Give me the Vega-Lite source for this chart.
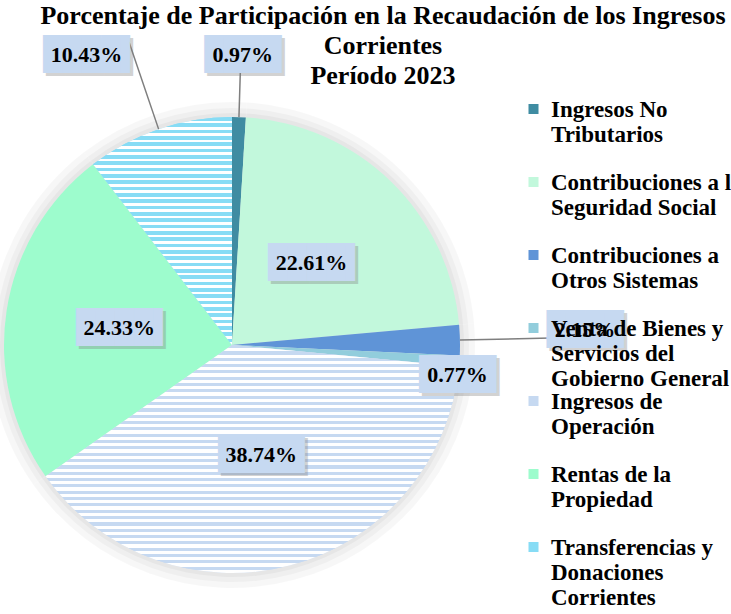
{
  "$schema": "https://vega.github.io/schema/vega-lite/v6.json",
  "width": 456,
  "height": 456,
  "autosize": {"type": "none"},
  "padding": {"left": 4, "top": 117, "right": 271, "bottom": 41},
  "background": "#ffffff",
  "config": {"view": {"stroke": null}},
  "title": {
    "text": ["Porcentaje de Participación en la Recaudación de los Ingresos", "Corrientes", "Período 2023"],
    "font": "Liberation Serif",
    "fontSize": 26,
    "fontWeight": "bold",
    "color": "#000000",
    "anchor": "middle",
    "frame": "group",
    "dx": 151,
    "offset": -120,
    "lineHeight": 30
  },
  "data": {
    "values": [
      {"categoria": "Ingresos No Tributarios", "orden": 1, "valor": 0.0097},
      {"categoria": "Contribuciones a la Seguridad Social", "orden": 2, "valor": 0.2261},
      {"categoria": "Contribuciones a Otros Sistemas", "orden": 3, "valor": 0.0215},
      {"categoria": "Venta de Bienes y Servicios del Gobierno General", "orden": 4, "valor": 0.0077},
      {"categoria": "Ingresos de Operación", "orden": 5, "valor": 0.3874},
      {"categoria": "Rentas de la Propiedad", "orden": 6, "valor": 0.2433},
      {"categoria": "Transferencias y Donaciones Corrientes", "orden": 7, "valor": 0.1043}
    ]
  },
  "layer": [
    {
      "mark": {"type": "arc", "radius": 243, "color": "#000000", "opacity": 0.03},
      "encoding": {"theta": {"field": "valor", "type": "quantitative", "stack": true}, "order": {"field": "orden", "type": "quantitative"}}
    },
    {
      "mark": {"type": "arc", "radius": 237, "color": "#000000", "opacity": 0.03},
      "encoding": {"theta": {"field": "valor", "type": "quantitative", "stack": true}, "order": {"field": "orden", "type": "quantitative"}}
    },
    {
      "mark": {"type": "arc", "radius": 232, "color": "#000000", "opacity": 0.035},
      "encoding": {"theta": {"field": "valor", "type": "quantitative", "stack": true}, "order": {"field": "orden", "type": "quantitative"}}
    },
    {
      "mark": {"type": "arc", "radius": 228},
      "encoding": {
        "theta": {"field": "valor", "type": "quantitative", "stack": true},
        "order": {"field": "orden", "type": "quantitative"},
        "color": {
          "field": "categoria",
          "type": "nominal",
          "scale": {
            "domain": ["Ingresos No Tributarios", "Contribuciones a la Seguridad Social", "Contribuciones a Otros Sistemas", "Venta de Bienes y Servicios del Gobierno General", "Ingresos de Operación", "Rentas de la Propiedad", "Transferencias y Donaciones Corrientes"],
            "range": ["#3f8ca2", "#c2f8dc", "#5f94d7", "#92cddc", "#c6d9f1", "#9dfccd", "#87dcf5"]
          },
          "legend": {
            "orient": "none",
            "legendX": 518,
            "legendY": -18,
            "title": null,
            "symbolType": "square",
            "symbolSize": 100,
            "symbolStrokeWidth": 0,
            "labelFont": "Liberation Serif",
            "labelFontSize": 23,
            "labelFontWeight": "bold",
            "labelColor": "#000000",
            "labelLimit": 400,
            "labelOffset": 6,
            "clipHeight": 73,
            "rowPadding": 0,
            "labelExpr": "datum.label == 'Ingresos No Tributarios' ? ['Ingresos No', 'Tributarios'] : datum.label == 'Contribuciones a la Seguridad Social' ? ['Contribuciones a la', 'Seguridad Social'] : datum.label == 'Contribuciones a Otros Sistemas' ? ['Contribuciones a', 'Otros Sistemas'] : datum.label == 'Venta de Bienes y Servicios del Gobierno General' ? ['Venta de Bienes y', 'Servicios del', 'Gobierno General'] : datum.label == 'Ingresos de Operación' ? ['Ingresos de', 'Operación'] : datum.label == 'Rentas de la Propiedad' ? ['Rentas de la', 'Propiedad'] : ['Transferencias y', 'Donaciones', 'Corrientes']",
            "encode": {
              "labels": {"update": {"y": {"value": 0}, "baseline": {"value": "top"}, "lineHeight": {"value": 25}}},
              "symbols": {"update": {"y": {"value": 10}}}
            }
          }
        }
      }
    },
    {
      "mark": {"type": "arc", "radius": 228, "color": {"gradient": "linear", "x1": 0, "y1": 0, "x2": 0, "y2": 1, "stops": [
        {"offset": 0, "color": "#c6d9f1"}, {"offset": 0.01389, "color": "#c6d9f1"}, {"offset": 0.01389, "color": "#ffffff"}, {"offset": 0.02778, "color": "#ffffff"},
        {"offset": 0.02778, "color": "#c6d9f1"}, {"offset": 0.04167, "color": "#c6d9f1"}, {"offset": 0.04167, "color": "#ffffff"}, {"offset": 0.05556, "color": "#ffffff"},
        {"offset": 0.05556, "color": "#c6d9f1"}, {"offset": 0.06944, "color": "#c6d9f1"}, {"offset": 0.06944, "color": "#ffffff"}, {"offset": 0.08333, "color": "#ffffff"},
        {"offset": 0.08333, "color": "#c6d9f1"}, {"offset": 0.09722, "color": "#c6d9f1"}, {"offset": 0.09722, "color": "#ffffff"}, {"offset": 0.11111, "color": "#ffffff"},
        {"offset": 0.11111, "color": "#c6d9f1"}, {"offset": 0.125, "color": "#c6d9f1"}, {"offset": 0.125, "color": "#ffffff"}, {"offset": 0.13889, "color": "#ffffff"},
        {"offset": 0.13889, "color": "#c6d9f1"}, {"offset": 0.15278, "color": "#c6d9f1"}, {"offset": 0.15278, "color": "#ffffff"}, {"offset": 0.16667, "color": "#ffffff"},
        {"offset": 0.16667, "color": "#c6d9f1"}, {"offset": 0.18056, "color": "#c6d9f1"}, {"offset": 0.18056, "color": "#ffffff"}, {"offset": 0.19444, "color": "#ffffff"},
        {"offset": 0.19444, "color": "#c6d9f1"}, {"offset": 0.20833, "color": "#c6d9f1"}, {"offset": 0.20833, "color": "#ffffff"}, {"offset": 0.22222, "color": "#ffffff"},
        {"offset": 0.22222, "color": "#c6d9f1"}, {"offset": 0.23611, "color": "#c6d9f1"}, {"offset": 0.23611, "color": "#ffffff"}, {"offset": 0.25, "color": "#ffffff"},
        {"offset": 0.25, "color": "#c6d9f1"}, {"offset": 0.26389, "color": "#c6d9f1"}, {"offset": 0.26389, "color": "#ffffff"}, {"offset": 0.27778, "color": "#ffffff"},
        {"offset": 0.27778, "color": "#c6d9f1"}, {"offset": 0.29167, "color": "#c6d9f1"}, {"offset": 0.29167, "color": "#ffffff"}, {"offset": 0.30556, "color": "#ffffff"},
        {"offset": 0.30556, "color": "#c6d9f1"}, {"offset": 0.31944, "color": "#c6d9f1"}, {"offset": 0.31944, "color": "#ffffff"}, {"offset": 0.33333, "color": "#ffffff"},
        {"offset": 0.33333, "color": "#c6d9f1"}, {"offset": 0.34722, "color": "#c6d9f1"}, {"offset": 0.34722, "color": "#ffffff"}, {"offset": 0.36111, "color": "#ffffff"},
        {"offset": 0.36111, "color": "#c6d9f1"}, {"offset": 0.375, "color": "#c6d9f1"}, {"offset": 0.375, "color": "#ffffff"}, {"offset": 0.38889, "color": "#ffffff"},
        {"offset": 0.38889, "color": "#c6d9f1"}, {"offset": 0.40278, "color": "#c6d9f1"}, {"offset": 0.40278, "color": "#ffffff"}, {"offset": 0.41667, "color": "#ffffff"},
        {"offset": 0.41667, "color": "#c6d9f1"}, {"offset": 0.43056, "color": "#c6d9f1"}, {"offset": 0.43056, "color": "#ffffff"}, {"offset": 0.44444, "color": "#ffffff"},
        {"offset": 0.44444, "color": "#c6d9f1"}, {"offset": 0.45833, "color": "#c6d9f1"}, {"offset": 0.45833, "color": "#ffffff"}, {"offset": 0.47222, "color": "#ffffff"},
        {"offset": 0.47222, "color": "#c6d9f1"}, {"offset": 0.48611, "color": "#c6d9f1"}, {"offset": 0.48611, "color": "#ffffff"}, {"offset": 0.5, "color": "#ffffff"},
        {"offset": 0.5, "color": "#c6d9f1"}, {"offset": 0.51389, "color": "#c6d9f1"}, {"offset": 0.51389, "color": "#ffffff"}, {"offset": 0.52778, "color": "#ffffff"},
        {"offset": 0.52778, "color": "#c6d9f1"}, {"offset": 0.54167, "color": "#c6d9f1"}, {"offset": 0.54167, "color": "#ffffff"}, {"offset": 0.55556, "color": "#ffffff"},
        {"offset": 0.55556, "color": "#c6d9f1"}, {"offset": 0.56944, "color": "#c6d9f1"}, {"offset": 0.56944, "color": "#ffffff"}, {"offset": 0.58333, "color": "#ffffff"},
        {"offset": 0.58333, "color": "#c6d9f1"}, {"offset": 0.59722, "color": "#c6d9f1"}, {"offset": 0.59722, "color": "#ffffff"}, {"offset": 0.61111, "color": "#ffffff"},
        {"offset": 0.61111, "color": "#c6d9f1"}, {"offset": 0.625, "color": "#c6d9f1"}, {"offset": 0.625, "color": "#ffffff"}, {"offset": 0.63889, "color": "#ffffff"},
        {"offset": 0.63889, "color": "#c6d9f1"}, {"offset": 0.65278, "color": "#c6d9f1"}, {"offset": 0.65278, "color": "#ffffff"}, {"offset": 0.66667, "color": "#ffffff"},
        {"offset": 0.66667, "color": "#c6d9f1"}, {"offset": 0.68056, "color": "#c6d9f1"}, {"offset": 0.68056, "color": "#ffffff"}, {"offset": 0.69444, "color": "#ffffff"},
        {"offset": 0.69444, "color": "#c6d9f1"}, {"offset": 0.70833, "color": "#c6d9f1"}, {"offset": 0.70833, "color": "#ffffff"}, {"offset": 0.72222, "color": "#ffffff"},
        {"offset": 0.72222, "color": "#c6d9f1"}, {"offset": 0.73611, "color": "#c6d9f1"}, {"offset": 0.73611, "color": "#ffffff"}, {"offset": 0.75, "color": "#ffffff"},
        {"offset": 0.75, "color": "#c6d9f1"}, {"offset": 0.76389, "color": "#c6d9f1"}, {"offset": 0.76389, "color": "#ffffff"}, {"offset": 0.77778, "color": "#ffffff"},
        {"offset": 0.77778, "color": "#c6d9f1"}, {"offset": 0.79167, "color": "#c6d9f1"}, {"offset": 0.79167, "color": "#ffffff"}, {"offset": 0.80556, "color": "#ffffff"},
        {"offset": 0.80556, "color": "#c6d9f1"}, {"offset": 0.81944, "color": "#c6d9f1"}, {"offset": 0.81944, "color": "#ffffff"}, {"offset": 0.83333, "color": "#ffffff"},
        {"offset": 0.83333, "color": "#c6d9f1"}, {"offset": 0.84722, "color": "#c6d9f1"}, {"offset": 0.84722, "color": "#ffffff"}, {"offset": 0.86111, "color": "#ffffff"},
        {"offset": 0.86111, "color": "#c6d9f1"}, {"offset": 0.875, "color": "#c6d9f1"}, {"offset": 0.875, "color": "#ffffff"}, {"offset": 0.88889, "color": "#ffffff"},
        {"offset": 0.88889, "color": "#c6d9f1"}, {"offset": 0.90278, "color": "#c6d9f1"}, {"offset": 0.90278, "color": "#ffffff"}, {"offset": 0.91667, "color": "#ffffff"},
        {"offset": 0.91667, "color": "#c6d9f1"}, {"offset": 0.93056, "color": "#c6d9f1"}, {"offset": 0.93056, "color": "#ffffff"}, {"offset": 0.94444, "color": "#ffffff"},
        {"offset": 0.94444, "color": "#c6d9f1"}, {"offset": 0.95833, "color": "#c6d9f1"}, {"offset": 0.95833, "color": "#ffffff"}, {"offset": 0.97222, "color": "#ffffff"},
        {"offset": 0.97222, "color": "#c6d9f1"}, {"offset": 0.98611, "color": "#c6d9f1"}, {"offset": 0.98611, "color": "#ffffff"}, {"offset": 1, "color": "#ffffff"}
      ]}},
      "encoding": {"theta": {"field": "valor", "type": "quantitative", "stack": true}, "order": {"field": "orden", "type": "quantitative"}, "opacity": {"condition": {"test": "datum.orden == 5", "value": 1}, "value": 0}}
    },
    {
      "mark": {"type": "arc", "radius": 228, "color": {"gradient": "linear", "x1": 0, "y1": 0, "x2": 0, "y2": 1, "stops": [
        {"offset": 0, "color": "#87dcf5"}, {"offset": 0.01667, "color": "#87dcf5"}, {"offset": 0.01667, "color": "#ffffff"}, {"offset": 0.02778, "color": "#ffffff"},
        {"offset": 0.02778, "color": "#87dcf5"}, {"offset": 0.04444, "color": "#87dcf5"}, {"offset": 0.04444, "color": "#ffffff"}, {"offset": 0.05556, "color": "#ffffff"},
        {"offset": 0.05556, "color": "#87dcf5"}, {"offset": 0.07222, "color": "#87dcf5"}, {"offset": 0.07222, "color": "#ffffff"}, {"offset": 0.08333, "color": "#ffffff"},
        {"offset": 0.08333, "color": "#87dcf5"}, {"offset": 0.1, "color": "#87dcf5"}, {"offset": 0.1, "color": "#ffffff"}, {"offset": 0.11111, "color": "#ffffff"},
        {"offset": 0.11111, "color": "#87dcf5"}, {"offset": 0.12778, "color": "#87dcf5"}, {"offset": 0.12778, "color": "#ffffff"}, {"offset": 0.13889, "color": "#ffffff"},
        {"offset": 0.13889, "color": "#87dcf5"}, {"offset": 0.15556, "color": "#87dcf5"}, {"offset": 0.15556, "color": "#ffffff"}, {"offset": 0.16667, "color": "#ffffff"},
        {"offset": 0.16667, "color": "#87dcf5"}, {"offset": 0.18333, "color": "#87dcf5"}, {"offset": 0.18333, "color": "#ffffff"}, {"offset": 0.19444, "color": "#ffffff"},
        {"offset": 0.19444, "color": "#87dcf5"}, {"offset": 0.21111, "color": "#87dcf5"}, {"offset": 0.21111, "color": "#ffffff"}, {"offset": 0.22222, "color": "#ffffff"},
        {"offset": 0.22222, "color": "#87dcf5"}, {"offset": 0.23889, "color": "#87dcf5"}, {"offset": 0.23889, "color": "#ffffff"}, {"offset": 0.25, "color": "#ffffff"},
        {"offset": 0.25, "color": "#87dcf5"}, {"offset": 0.26667, "color": "#87dcf5"}, {"offset": 0.26667, "color": "#ffffff"}, {"offset": 0.27778, "color": "#ffffff"},
        {"offset": 0.27778, "color": "#87dcf5"}, {"offset": 0.29444, "color": "#87dcf5"}, {"offset": 0.29444, "color": "#ffffff"}, {"offset": 0.30556, "color": "#ffffff"},
        {"offset": 0.30556, "color": "#87dcf5"}, {"offset": 0.32222, "color": "#87dcf5"}, {"offset": 0.32222, "color": "#ffffff"}, {"offset": 0.33333, "color": "#ffffff"},
        {"offset": 0.33333, "color": "#87dcf5"}, {"offset": 0.35, "color": "#87dcf5"}, {"offset": 0.35, "color": "#ffffff"}, {"offset": 0.36111, "color": "#ffffff"},
        {"offset": 0.36111, "color": "#87dcf5"}, {"offset": 0.37778, "color": "#87dcf5"}, {"offset": 0.37778, "color": "#ffffff"}, {"offset": 0.38889, "color": "#ffffff"},
        {"offset": 0.38889, "color": "#87dcf5"}, {"offset": 0.40556, "color": "#87dcf5"}, {"offset": 0.40556, "color": "#ffffff"}, {"offset": 0.41667, "color": "#ffffff"},
        {"offset": 0.41667, "color": "#87dcf5"}, {"offset": 0.43333, "color": "#87dcf5"}, {"offset": 0.43333, "color": "#ffffff"}, {"offset": 0.44444, "color": "#ffffff"},
        {"offset": 0.44444, "color": "#87dcf5"}, {"offset": 0.46111, "color": "#87dcf5"}, {"offset": 0.46111, "color": "#ffffff"}, {"offset": 0.47222, "color": "#ffffff"},
        {"offset": 0.47222, "color": "#87dcf5"}, {"offset": 0.48889, "color": "#87dcf5"}, {"offset": 0.48889, "color": "#ffffff"}, {"offset": 0.5, "color": "#ffffff"},
        {"offset": 0.5, "color": "#87dcf5"}, {"offset": 0.51667, "color": "#87dcf5"}, {"offset": 0.51667, "color": "#ffffff"}, {"offset": 0.52778, "color": "#ffffff"},
        {"offset": 0.52778, "color": "#87dcf5"}, {"offset": 0.54444, "color": "#87dcf5"}, {"offset": 0.54444, "color": "#ffffff"}, {"offset": 0.55556, "color": "#ffffff"},
        {"offset": 0.55556, "color": "#87dcf5"}, {"offset": 0.57222, "color": "#87dcf5"}, {"offset": 0.57222, "color": "#ffffff"}, {"offset": 0.58333, "color": "#ffffff"},
        {"offset": 0.58333, "color": "#87dcf5"}, {"offset": 0.6, "color": "#87dcf5"}, {"offset": 0.6, "color": "#ffffff"}, {"offset": 0.61111, "color": "#ffffff"},
        {"offset": 0.61111, "color": "#87dcf5"}, {"offset": 0.62778, "color": "#87dcf5"}, {"offset": 0.62778, "color": "#ffffff"}, {"offset": 0.63889, "color": "#ffffff"},
        {"offset": 0.63889, "color": "#87dcf5"}, {"offset": 0.65556, "color": "#87dcf5"}, {"offset": 0.65556, "color": "#ffffff"}, {"offset": 0.66667, "color": "#ffffff"},
        {"offset": 0.66667, "color": "#87dcf5"}, {"offset": 0.68333, "color": "#87dcf5"}, {"offset": 0.68333, "color": "#ffffff"}, {"offset": 0.69444, "color": "#ffffff"},
        {"offset": 0.69444, "color": "#87dcf5"}, {"offset": 0.71111, "color": "#87dcf5"}, {"offset": 0.71111, "color": "#ffffff"}, {"offset": 0.72222, "color": "#ffffff"},
        {"offset": 0.72222, "color": "#87dcf5"}, {"offset": 0.73889, "color": "#87dcf5"}, {"offset": 0.73889, "color": "#ffffff"}, {"offset": 0.75, "color": "#ffffff"},
        {"offset": 0.75, "color": "#87dcf5"}, {"offset": 0.76667, "color": "#87dcf5"}, {"offset": 0.76667, "color": "#ffffff"}, {"offset": 0.77778, "color": "#ffffff"},
        {"offset": 0.77778, "color": "#87dcf5"}, {"offset": 0.79444, "color": "#87dcf5"}, {"offset": 0.79444, "color": "#ffffff"}, {"offset": 0.80556, "color": "#ffffff"},
        {"offset": 0.80556, "color": "#87dcf5"}, {"offset": 0.82222, "color": "#87dcf5"}, {"offset": 0.82222, "color": "#ffffff"}, {"offset": 0.83333, "color": "#ffffff"},
        {"offset": 0.83333, "color": "#87dcf5"}, {"offset": 0.85, "color": "#87dcf5"}, {"offset": 0.85, "color": "#ffffff"}, {"offset": 0.86111, "color": "#ffffff"},
        {"offset": 0.86111, "color": "#87dcf5"}, {"offset": 0.87778, "color": "#87dcf5"}, {"offset": 0.87778, "color": "#ffffff"}, {"offset": 0.88889, "color": "#ffffff"},
        {"offset": 0.88889, "color": "#87dcf5"}, {"offset": 0.90556, "color": "#87dcf5"}, {"offset": 0.90556, "color": "#ffffff"}, {"offset": 0.91667, "color": "#ffffff"},
        {"offset": 0.91667, "color": "#87dcf5"}, {"offset": 0.93333, "color": "#87dcf5"}, {"offset": 0.93333, "color": "#ffffff"}, {"offset": 0.94444, "color": "#ffffff"},
        {"offset": 0.94444, "color": "#87dcf5"}, {"offset": 0.96111, "color": "#87dcf5"}, {"offset": 0.96111, "color": "#ffffff"}, {"offset": 0.97222, "color": "#ffffff"},
        {"offset": 0.97222, "color": "#87dcf5"}, {"offset": 0.98889, "color": "#87dcf5"}, {"offset": 0.98889, "color": "#ffffff"}, {"offset": 1, "color": "#ffffff"}
      ]}},
      "encoding": {"theta": {"field": "valor", "type": "quantitative", "stack": true}, "order": {"field": "orden", "type": "quantitative"}, "opacity": {"condition": {"test": "datum.orden == 7", "value": 1}, "value": 0}}
    },
    {
      "mark": {"type": "arc", "radius": 290, "radius2": 228, "padAngle": 3, "fillOpacity": 0, "stroke": "#7f7f7f", "strokeWidth": 1.5},
      "encoding": {"theta": {"field": "valor", "type": "quantitative", "stack": true}, "order": {"field": "orden", "type": "quantitative"}, "opacity": {"condition": {"test": "datum.orden == 1", "value": 1}, "value": 0}}
    },
    {
      "mark": {"type": "arc", "radius": 320, "radius2": 228, "padAngle": 3, "fillOpacity": 0, "stroke": "#7f7f7f", "strokeWidth": 1.5},
      "encoding": {"theta": {"field": "valor", "type": "quantitative", "stack": true}, "order": {"field": "orden", "type": "quantitative"}, "opacity": {"condition": {"test": "datum.orden == 7", "value": 1}, "value": 0}}
    },
    {
      "mark": {"type": "arc", "radius": 330, "radius2": 228, "padAngle": 3, "fillOpacity": 0, "stroke": "#7f7f7f", "strokeWidth": 1.5},
      "encoding": {"theta": {"field": "valor", "type": "quantitative", "stack": true}, "order": {"field": "orden", "type": "quantitative"}, "opacity": {"condition": {"test": "datum.orden == 3", "value": 1}, "value": 0}}
    },
    {
      "mark": {"type": "text", "radius": 114, "dx": 7.8, "dy": 3, "font": "DejaVu Sans Mono", "fontSize": 32, "color": "#808080", "opacity": 0.35},
      "encoding": {"theta": {"field": "valor", "type": "quantitative", "stack": true}, "order": {"field": "orden", "type": "quantitative"}, "text": {"condition": {"test": "datum.valor > 0.2", "value": "████▌"}, "value": ""}}
    },
    {
      "mark": {"type": "text", "radius": 114, "dx": 4.8, "font": "DejaVu Sans Mono", "fontSize": 32, "color": "#c6d9f1"},
      "encoding": {"theta": {"field": "valor", "type": "quantitative", "stack": true}, "order": {"field": "orden", "type": "quantitative"}, "text": {"condition": {"test": "datum.valor > 0.2", "value": "████▌"}, "value": ""}}
    },
    {
      "mark": {"type": "text", "radius": 114, "font": "Liberation Serif", "fontSize": 22, "fontWeight": "bold", "color": "#000000"},
      "encoding": {"theta": {"field": "valor", "type": "quantitative", "stack": true}, "order": {"field": "orden", "type": "quantitative"}, "text": {"condition": {"test": "datum.valor > 0.2", "field": "valor", "type": "quantitative", "format": ".2%"}, "value": ""}}
    },
    {
      "mark": {"type": "text", "radius": 290, "dx": 5, "dy": 3, "font": "DejaVu Sans Mono", "fontSize": 32, "color": "#808080", "opacity": 0.35},
      "encoding": {"theta": {"field": "valor", "type": "quantitative", "stack": true}, "order": {"field": "orden", "type": "quantitative"}, "text": {"condition": {"test": "datum.orden == 1", "value": "████"}, "value": ""}}
    },
    {
      "mark": {"type": "text", "radius": 290, "dx": 2, "font": "DejaVu Sans Mono", "fontSize": 32, "color": "#c6d9f1"},
      "encoding": {"theta": {"field": "valor", "type": "quantitative", "stack": true}, "order": {"field": "orden", "type": "quantitative"}, "text": {"condition": {"test": "datum.orden == 1", "value": "████"}, "value": ""}}
    },
    {
      "mark": {"type": "text", "radius": 290, "dx": 2, "font": "Liberation Serif", "fontSize": 22, "fontWeight": "bold", "color": "#000000"},
      "encoding": {"theta": {"field": "valor", "type": "quantitative", "stack": true}, "order": {"field": "orden", "type": "quantitative"}, "text": {"condition": {"test": "datum.orden == 1", "field": "valor", "type": "quantitative", "format": ".2%"}, "value": ""}}
    },
    {
      "mark": {"type": "text", "radius": 300, "dx": -41.2, "dy": -3, "font": "DejaVu Sans Mono", "fontSize": 32, "color": "#808080", "opacity": 0.35},
      "encoding": {"theta": {"field": "valor", "type": "quantitative", "stack": true}, "order": {"field": "orden", "type": "quantitative"}, "text": {"condition": {"test": "datum.orden == 7", "value": "████▌"}, "value": ""}}
    },
    {
      "mark": {"type": "text", "radius": 300, "dx": -44.2, "dy": -6, "font": "DejaVu Sans Mono", "fontSize": 32, "color": "#c6d9f1"},
      "encoding": {"theta": {"field": "valor", "type": "quantitative", "stack": true}, "order": {"field": "orden", "type": "quantitative"}, "text": {"condition": {"test": "datum.orden == 7", "value": "████▌"}, "value": ""}}
    },
    {
      "mark": {"type": "text", "radius": 300, "dx": -49, "dy": -6, "font": "Liberation Serif", "fontSize": 22, "fontWeight": "bold", "color": "#000000"},
      "encoding": {"theta": {"field": "valor", "type": "quantitative", "stack": true}, "order": {"field": "orden", "type": "quantitative"}, "text": {"condition": {"test": "datum.orden == 7", "field": "valor", "type": "quantitative", "format": ".2%"}, "value": ""}}
    },
    {
      "mark": {"type": "text", "radius": 353, "dx": 3, "dy": -4, "font": "DejaVu Sans Mono", "fontSize": 32, "color": "#808080", "opacity": 0.35},
      "encoding": {"theta": {"field": "valor", "type": "quantitative", "stack": true}, "order": {"field": "orden", "type": "quantitative"}, "text": {"condition": {"test": "datum.orden == 3", "value": "████"}, "value": ""}}
    },
    {
      "mark": {"type": "text", "radius": 353, "dy": -7, "font": "DejaVu Sans Mono", "fontSize": 32, "color": "#c6d9f1"},
      "encoding": {"theta": {"field": "valor", "type": "quantitative", "stack": true}, "order": {"field": "orden", "type": "quantitative"}, "text": {"condition": {"test": "datum.orden == 3", "value": "████"}, "value": ""}}
    },
    {
      "mark": {"type": "text", "radius": 353, "dy": -7, "font": "Liberation Serif", "fontSize": 22, "fontWeight": "bold", "color": "#000000"},
      "encoding": {"theta": {"field": "valor", "type": "quantitative", "stack": true}, "order": {"field": "orden", "type": "quantitative"}, "text": {"condition": {"test": "datum.orden == 3", "field": "valor", "type": "quantitative", "format": ".2%"}, "value": ""}}
    },
    {
      "mark": {"type": "text", "radius": 227, "dx": 2, "dy": 17, "font": "DejaVu Sans Mono", "fontSize": 32, "color": "#808080", "opacity": 0.35},
      "encoding": {"theta": {"field": "valor", "type": "quantitative", "stack": true}, "order": {"field": "orden", "type": "quantitative"}, "text": {"condition": {"test": "datum.orden == 4", "value": "████"}, "value": ""}}
    },
    {
      "mark": {"type": "text", "radius": 227, "dx": -1, "dy": 14, "font": "DejaVu Sans Mono", "fontSize": 32, "color": "#c6d9f1"},
      "encoding": {"theta": {"field": "valor", "type": "quantitative", "stack": true}, "order": {"field": "orden", "type": "quantitative"}, "text": {"condition": {"test": "datum.orden == 4", "value": "████"}, "value": ""}}
    },
    {
      "mark": {"type": "text", "radius": 227, "dx": -1, "dy": 14, "font": "Liberation Serif", "fontSize": 22, "fontWeight": "bold", "color": "#000000"},
      "encoding": {"theta": {"field": "valor", "type": "quantitative", "stack": true}, "order": {"field": "orden", "type": "quantitative"}, "text": {"condition": {"test": "datum.orden == 4", "field": "valor", "type": "quantitative", "format": ".2%"}, "value": ""}}
    }
  ]
}
